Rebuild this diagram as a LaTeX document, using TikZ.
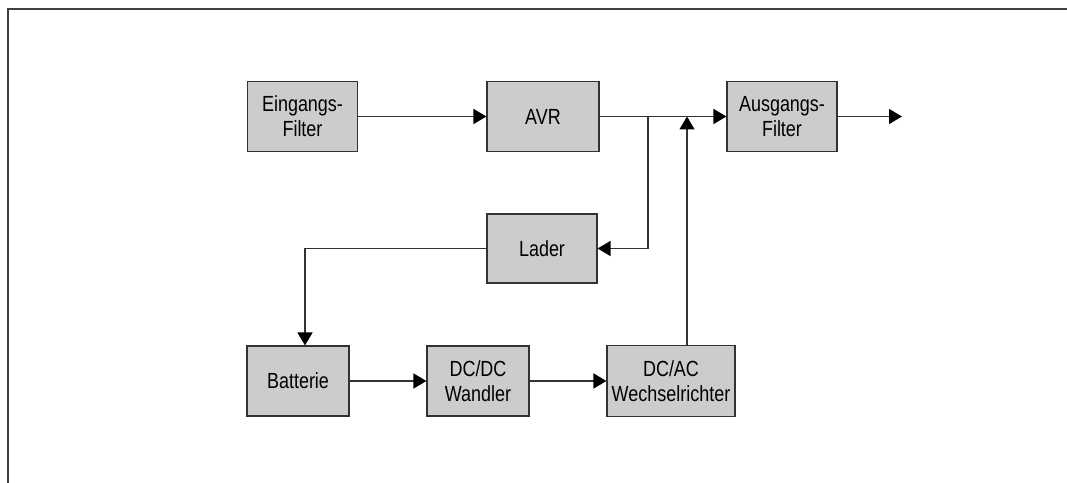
\documentclass[tikz,border=0pt]{standalone}
\usepackage{fontspec}
\setmainfont{Liberation Sans}[FakeStretch=0.82]
\usepackage{xcolor}
\usetikzlibrary{arrows.meta}
\definecolor{boxgray}{RGB}{204,204,204}
\definecolor{linegray}{RGB}{51,51,51}

\begin{document}
\begin{tikzpicture}[x=1bp, y=-1bp, >={Triangle[length=13bp,width=15bp,color=black]},
    block/.style={draw=linegray, line width=1.1bp, fill=boxgray, align=center,
        inner sep=0pt, font=\fontsize{22}{25}\selectfont},
    conn/.style={draw=linegray, line width=1.4bp}]
    \useasboundingbox (0,0) rectangle (1067,483);
    % frame
    \draw[black!75, line width=1.6bp] (8,483) -- (8,9) -- (1067,9);
    % upper row
    \node[block, minimum width=110bp, minimum height=70bp] (ein) at (302.5,116.5) {Eingangs-\\Filter};
    \node[block, minimum width=112bp, minimum height=70bp] (avr) at (543,116.5) {AVR};
    \node[block, minimum width=110bp, minimum height=70bp] (aus) at (782,116.5) {Ausgangs-\\Filter};
    \node[block, minimum width=110bp, minimum height=69bp] (lader) at (542,248.5) {Lader};
    % lower row
    \node[block, minimum width=102bp, minimum height=70bp] (bat) at (298,381) {Batterie};
    \node[block, minimum width=102bp, minimum height=70bp] (dcdc) at (478,381) {DC/DC\\Wandler};
    \node[block, minimum width=128bp, minimum height=71bp] (dcac) at (671,381) {DC/AC\\Wechselrichter};
    \coordinate (split) at (648,116.5);
    \coordinate (merge) at (687,116.5);
    \coordinate (out) at (902,116.5);
    % connectors
    \draw[conn, ->] (ein) -- (avr);
    \draw[conn, ->] (avr) -- (aus);
    \draw[conn, ->] (split) |- (lader);
    \draw[conn, ->] (dcac.north -| merge) -- (merge);
    \draw[conn, ->] (aus) -- (out);
    \draw[conn, ->] (lader) -| ([xshift=7bp]bat.north);
    \draw[conn, ->] (bat) -- (dcdc);
    \draw[conn, ->] (dcdc) -- (dcac);
\end{tikzpicture}
\end{document}
